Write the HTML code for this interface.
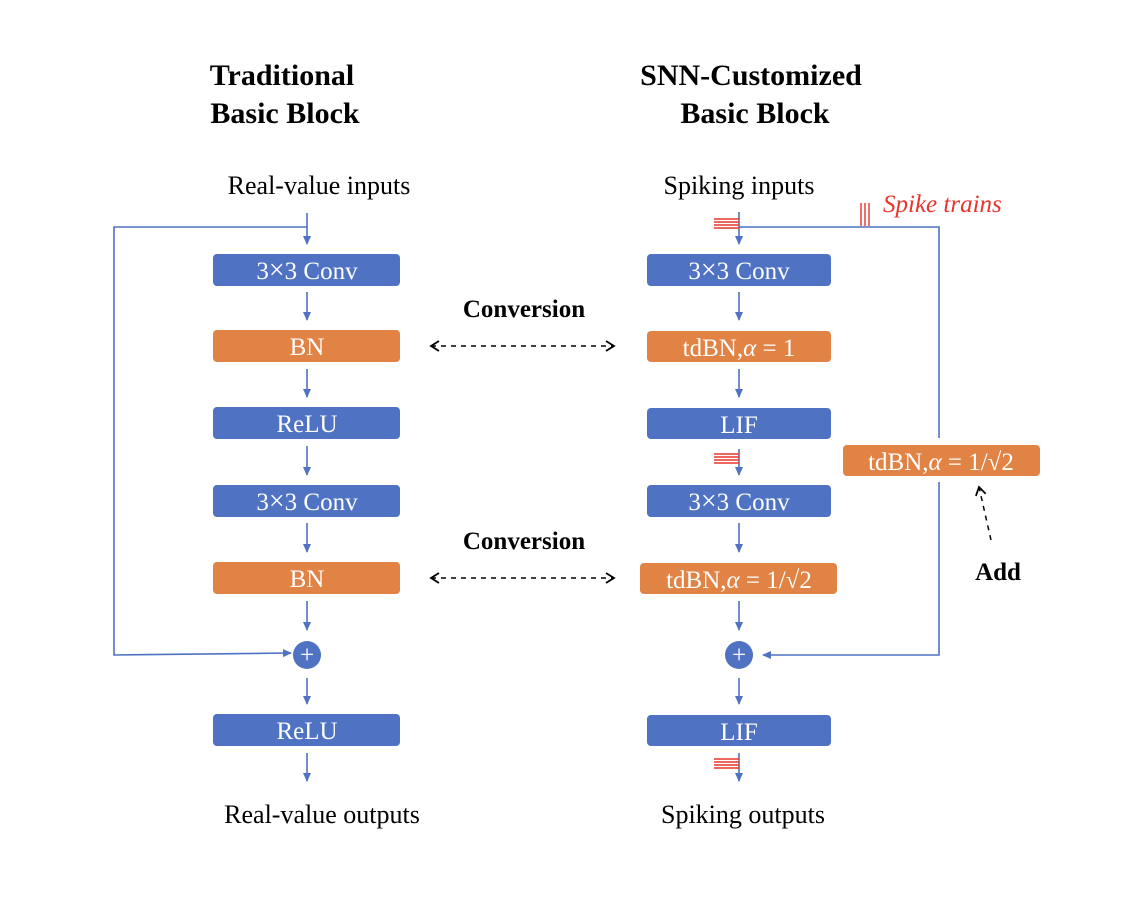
<!DOCTYPE html>
<html><head><meta charset="utf-8"><style>
html,body{margin:0;padding:0;background:#fff;}
svg{display:block;}
text{font-family:"Liberation Serif",serif;}
.t{font-size:25px;fill:#fff;text-anchor:middle;}
.b{font-size:30px;font-weight:bold;fill:#000;text-anchor:middle;}
.c{font-size:25px;font-weight:bold;fill:#000;text-anchor:middle;}
.l{font-size:26px;fill:#000;text-anchor:middle;}
</style></head><body>
<svg width="1126" height="904" viewBox="0 0 1126 904" xmlns="http://www.w3.org/2000/svg">
<defs>
<marker id="a" markerWidth="10" markerHeight="10" refX="8" refY="5" orient="auto" markerUnits="userSpaceOnUse"><path d="M0,1 L9,5 L0,9 Z" fill="#4f72c2"/></marker>
<marker id="k" markerWidth="12" markerHeight="12" refX="10" refY="6" orient="auto-start-reverse" markerUnits="userSpaceOnUse"><path d="M2,1 L10,6 L2,11" fill="none" stroke="#000" stroke-width="1.8"/></marker>
</defs>
<text class="b" x="282" y="85">Traditional</text>
<text class="b" x="285" y="123">Basic Block</text>
<text class="b" x="751" y="85">SNN-Customized</text>
<text class="b" x="755" y="123">Basic Block</text>
<text class="l" x="319" y="194">Real-value inputs</text>
<text class="l" x="739" y="194">Spiking inputs</text>
<text x="883" y="212" font-size="25" font-style="italic" fill="#e8342c">Spike trains</text>
<text class="l" x="322" y="823">Real-value outputs</text>
<text class="l" x="743" y="823">Spiking outputs</text>
<text class="c" x="524" y="317">Conversion</text>
<text class="c" x="524" y="549">Conversion</text>
<text class="c" x="998" y="580">Add</text>

<g stroke="#4f72c2" stroke-width="1.6" fill="none">
<path d="M307,213 V244" marker-end="url(#a)"/>
<path d="M307,292 V320" marker-end="url(#a)"/>
<path d="M307,369 V397" marker-end="url(#a)"/>
<path d="M307,446 V475" marker-end="url(#a)"/>
<path d="M307,523 V552" marker-end="url(#a)"/>
<path d="M307,601 V630" marker-end="url(#a)"/>
<path d="M307,678 V704" marker-end="url(#a)"/>
<path d="M307,753 V781" marker-end="url(#a)"/>
<path d="M307,227 H114 V655 L291,653" marker-end="url(#a)"/>
<path d="M739,212 V244" marker-end="url(#a)"/>
<path d="M739,292 V320" marker-end="url(#a)"/>
<path d="M739,369 V397" marker-end="url(#a)"/>
<path d="M739,449 V475" marker-end="url(#a)"/>
<path d="M739,523 V552" marker-end="url(#a)"/>
<path d="M739,601 V630" marker-end="url(#a)"/>
<path d="M739,678 V704" marker-end="url(#a)"/>
<path d="M739,753 V781" marker-end="url(#a)"/>
<path d="M739,227 H939 V438"/>
<path d="M939,482 V655 H763" marker-end="url(#a)"/>
</g>
<g stroke="#000" stroke-width="1.5" fill="none" stroke-dasharray="5,5">
<path d="M431,346 H614" marker-end="url(#k)" marker-start="url(#k)"/>
<path d="M431,578 H614" marker-end="url(#k)" marker-start="url(#k)"/>
<path d="M991,540 L979,487" marker-end="url(#k)"/>
</g>
<g stroke="#e8342c" stroke-width="1.4">
<path d="M714,219 H739 M714,222 H739 M714,225 H739 M714,228 H739"/>
<path d="M714,454 H739 M714,457 H739 M714,460 H739 M714,463 H739"/>
<path d="M714,759 H739 M714,762 H739 M714,765 H739 M714,768 H739"/>
<path d="M861,203 V226 M865,203 V226 M869,203 V226"/>
</g>
<g>
<rect x="213" y="254" width="187" height="32" rx="4" fill="#4f72c2"/><text class="t" x="307" y="279">3<tspan font-size="28">×</tspan>3 Conv</text>
<rect x="213" y="330" width="187" height="32" rx="4" fill="#e08344"/><text class="t" x="307" y="355">BN</text>
<rect x="213" y="407" width="187" height="32" rx="4" fill="#4f72c2"/><text class="t" x="307" y="432">ReLU</text>
<rect x="213" y="485" width="187" height="32" rx="4" fill="#4f72c2"/><text class="t" x="307" y="510">3<tspan font-size="28">×</tspan>3 Conv</text>
<rect x="213" y="562" width="187" height="32" rx="4" fill="#e08344"/><text class="t" x="307" y="587">BN</text>
<circle cx="307" cy="655" r="14" fill="#4f72c2"/><text class="t" x="307" y="663">+</text>
<rect x="213" y="714" width="187" height="32" rx="4" fill="#4f72c2"/><text class="t" x="307" y="739">ReLU</text>
</g>
<g>
<rect x="647" y="254" width="184" height="32" rx="4" fill="#4f72c2"/><text class="t" x="739" y="279">3<tspan font-size="28">×</tspan>3 Conv</text>
<rect x="647" y="331" width="184" height="31" rx="4" fill="#e08344"/><text class="t" x="739" y="356">tdBN,<tspan font-style="italic">α</tspan> = 1</text>
<rect x="647" y="408" width="184" height="31" rx="4" fill="#4f72c2"/><text class="t" x="739" y="433">LIF</text>
<rect x="647" y="485" width="184" height="32" rx="4" fill="#4f72c2"/><text class="t" x="739" y="510">3<tspan font-size="28">×</tspan>3 Conv</text>
<rect x="640" y="563" width="197" height="31" rx="4" fill="#e08344"/><text class="t" x="739" y="588">tdBN,<tspan font-style="italic">α</tspan> = 1/√2</text>
<circle cx="739" cy="655" r="14" fill="#4f72c2"/><text class="t" x="739" y="663">+</text>
<rect x="647" y="715" width="184" height="31" rx="4" fill="#4f72c2"/><text class="t" x="739" y="740">LIF</text>
<rect x="843" y="445" width="197" height="31" rx="4" fill="#e08344"/><text class="t" x="941" y="470">tdBN,<tspan font-style="italic">α</tspan> = 1/√2</text>
</g>
</svg>
</body></html>
